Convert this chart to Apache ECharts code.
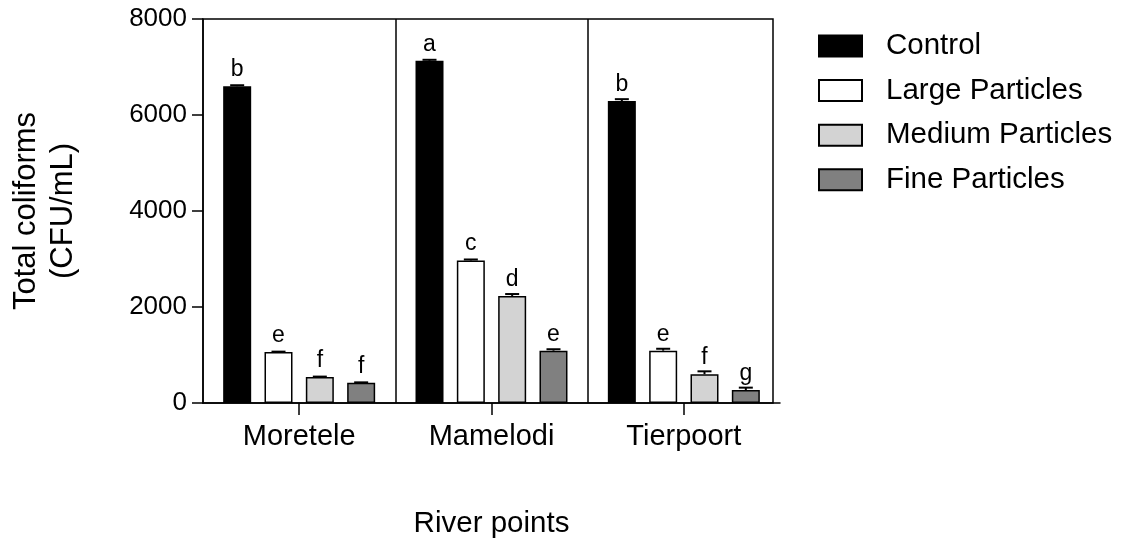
<!DOCTYPE html>
<html>
<head>
<meta charset="utf-8">
<script src="https://cdn.jsdelivr.net/npm/echarts@6/dist/echarts.min.js"></script>
<style>
  html, body { margin: 0; padding: 0; background: #fff; }
  #chart { width: 1131px; height: 545px; }
</style>
</head>
<body>
<div id="chart"></div>
<script>
// River sampling points
const riverPoints = ['Moretele', 'Mamelodi', 'Tierpoort'];

// Treatment groups
const seriesNames = ['Control', 'Large Particles', 'Medium Particles', 'Fine Particles'];

// Mean total coliforms (CFU/mL) per river point
const controlValues = [6600, 7130, 6290];
const largeValues = [1060, 2970, 1090];
const mediumValues = [540, 2230, 600];
const fineValues = [420, 1090, 270];

// Standard error per river point
const controlErrors = [20, 20, 40];
const largeErrors = [10, 20, 40];
const mediumErrors = [10, 40, 60];
const fineErrors = [10, 30, 50];

// Significance letters
const controlLetters = ['b', 'a', 'b'];
const largeLetters = ['e', 'c', 'e'];
const mediumLetters = ['f', 'd', 'f'];
const fineLetters = ['f', 'e', 'g'];

// Y axis ticks
const yMin = 0, yMax = 8000, yStep = 2000;

const FONT = 'Liberation Sans, Arial, Helvetica, sans-serif';
const BAR_W = 28;
const BAR_GAP = 0.476; // fraction of bar width

const groups = [
  { name: seriesNames[0], values: controlValues, errors: controlErrors, letters: controlLetters, color: '#000000' },
  { name: seriesNames[1], values: largeValues, errors: largeErrors, letters: largeLetters, color: '#ffffff' },
  { name: seriesNames[2], values: mediumValues, errors: mediumErrors, letters: mediumLetters, color: '#d3d3d3' },
  { name: seriesNames[3], values: fineValues, errors: fineErrors, letters: fineLetters, color: '#808080' }
];

const barSeries = groups.map(g => ({
  name: g.name,
  type: 'bar',
  barWidth: BAR_W,
  barGap: (BAR_GAP * 100) + '%',
  data: g.values,
  itemStyle: { color: g.color, borderColor: '#000', borderWidth: 1.5 },
  label: {
    show: true,
    position: 'top',
    distance: 5,
    color: '#000',
    fontFamily: FONT,
    fontSize: 23,
    formatter: p => g.letters[p.dataIndex]
  },
  emphasis: { disabled: true },
  z: 2
}));

// Error bar data: [category index, group index, mean, error]
const errorData = [];
groups.forEach((g, gi) => {
  g.values.forEach((v, ci) => errorData.push([ci, gi, v, g.errors[ci]]));
});

const errorSeries = {
  type: 'custom',
  name: 'error',
  data: errorData,
  encode: { x: 0, y: 2 },
  z: 3,
  silent: true,
  renderItem: function (params, api) {
    const ci = api.value(0), gi = api.value(1), v = api.value(2), e = api.value(3);
    const n = groups.length;
    const step = BAR_W * (1 + BAR_GAP);
    const off = (gi - (n - 1) / 2) * step;
    const base = api.coord([ci, v]);
    const top = api.coord([ci, v + e]);
    const x = base[0] + off;
    const half = 7;
    const style = { stroke: '#000', lineWidth: 2 };
    return {
      type: 'group',
      children: [
        { type: 'line', shape: { x1: x, y1: base[1], x2: x, y2: top[1] }, style: style },
        { type: 'line', shape: { x1: x - half, y1: top[1], x2: x + half, y2: top[1] }, style: style }
      ]
    };
  }
};

const chart = echarts.init(document.getElementById('chart'), null, { renderer: 'canvas' });

chart.setOption({
  backgroundColor: '#fff',
  animation: false,
  textStyle: { fontFamily: FONT },
  grid: [
    { left: 203, right: 351, top: 19, bottom: 142, containLabel: false },
    // plot frame (top and right edges)
    { left: 203, right: 358, top: 19, bottom: 142, show: true, borderColor: '#000', borderWidth: 1.5, backgroundColor: 'transparent', z: 1 }
  ],
  legend: {
    orient: 'vertical',
    left: 813,
    top: 26,
    itemWidth: 43,
    itemHeight: 21,
    itemGap: 14.6,
    icon: 'rect',
    data: seriesNames,
    textStyle: { fontFamily: FONT, fontSize: 29.5, color: '#000', padding: [0, 0, 0, 19] },
    selectedMode: false
  },
  xAxis: [
    {
      type: 'category',
      gridIndex: 0,
      data: riverPoints,
      name: 'River points',
      nameLocation: 'middle',
      nameGap: 106,
      nameTextStyle: { fontFamily: FONT, fontSize: 29.5, color: '#000' },
      axisLine: { show: true, lineStyle: { color: '#000', width: 1.5 } },
      axisTick: { show: true, alignWithLabel: true, length: 12, lineStyle: { color: '#000', width: 1.5 } },
      axisLabel: { fontFamily: FONT, fontSize: 29, color: '#000', margin: 19 },
      splitLine: { show: true, showMinLine: false, showMaxLine: false, lineStyle: { color: '#000', width: 1.5 } }
    },
    { type: 'value', gridIndex: 1, show: false, min: 0, max: 1 }
  ],
  yAxis: [
    {
      type: 'value',
      gridIndex: 0,
      min: yMin,
      max: yMax,
      interval: yStep,
      name: 'Total coliforms\n(CFU/mL)',
      nameLocation: 'middle',
      nameRotate: 90,
      nameGap: 121,
      nameTextStyle: { fontFamily: FONT, fontSize: 31, color: '#000', lineHeight: 37 },
      axisLine: { show: true, lineStyle: { color: '#000', width: 1.5 } },
      axisTick: { show: true, length: 11, lineStyle: { color: '#000', width: 1.5 } },
      axisLabel: { fontFamily: FONT, fontSize: 26, color: '#000', margin: 16, formatter: v => String(v) },
      splitLine: { show: false }
    },
    { type: 'value', gridIndex: 1, show: false, min: 0, max: 1 }
  ],
  series: barSeries.concat([errorSeries])
});
</script>
</body>
</html>
